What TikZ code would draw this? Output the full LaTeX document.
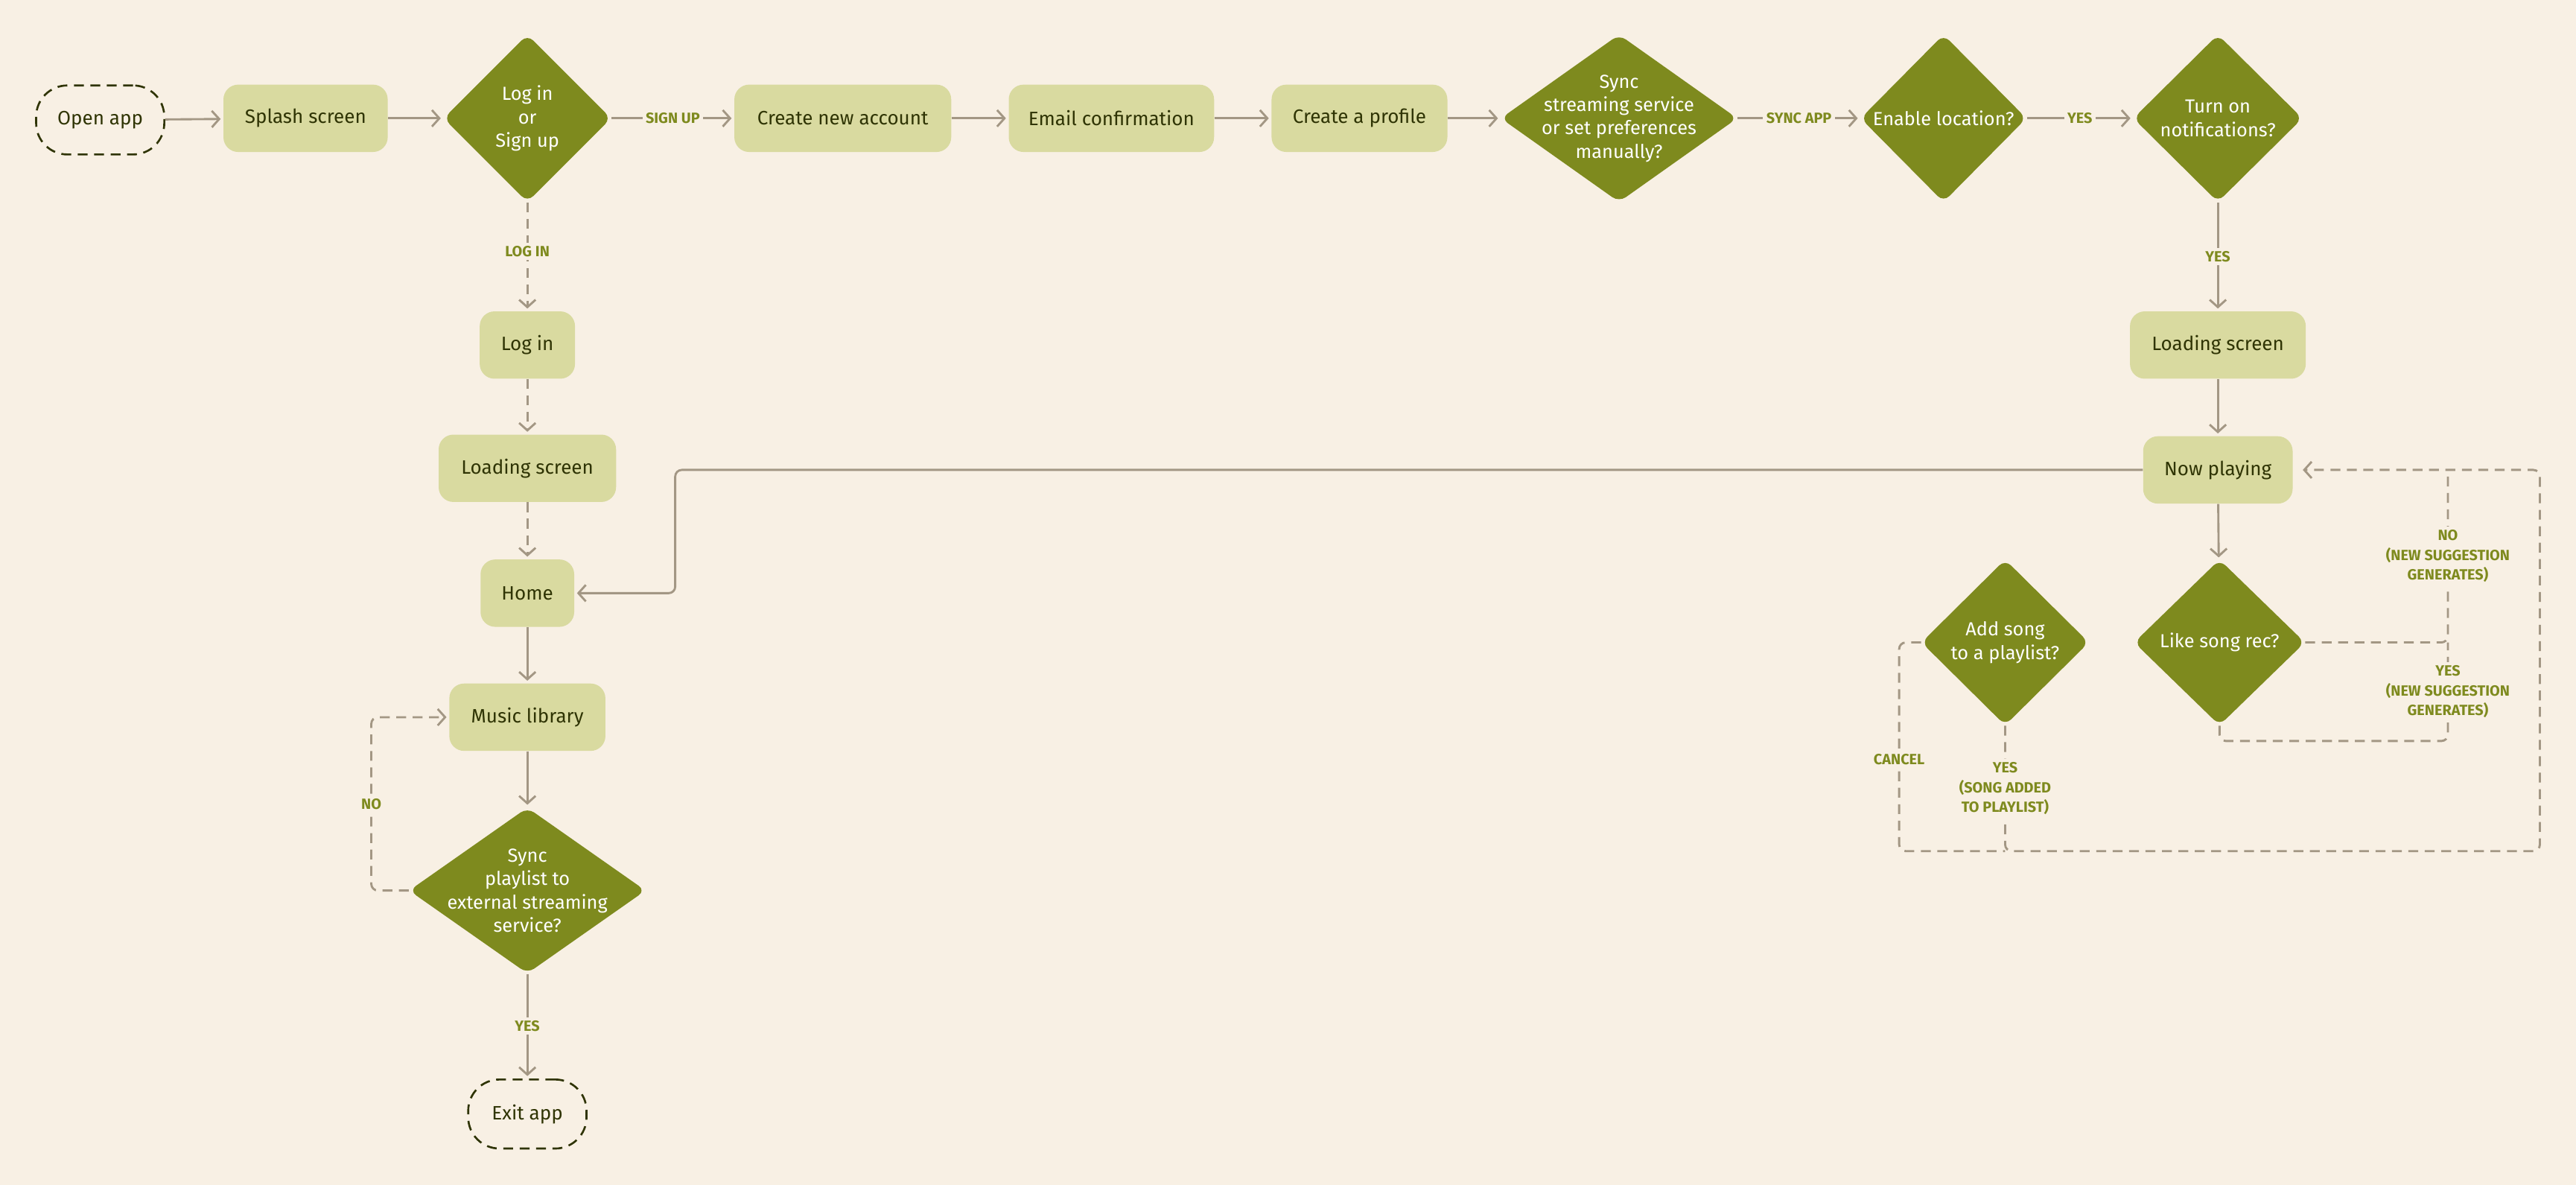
\documentclass[tikz,border=0pt]{standalone}
\usepackage{fontspec}
\setmainfont{Fira Sans}
\usetikzlibrary{arrows.meta,shapes.geometric,calc}
\definecolor{bg}{HTML}{F8F0E4}
\definecolor{boxfill}{HTML}{D9DAA0}
\definecolor{diafill}{HTML}{7E8A1E}
\definecolor{ink}{HTML}{2F3404}
\definecolor{edgec}{HTML}{A39784}
\definecolor{lab}{HTML}{7E8A1E}
\begin{document}
\begin{tikzpicture}[x=1pt,y=-1pt,
  box/.style={rectangle, rounded corners=9pt, fill=boxfill, text=ink, minimum height=41pt, inner sep=0pt, font=\fontsize{11.8}{14}\selectfont},
  term/.style={rectangle, rounded corners=19pt, draw=ink, dash pattern=on 6pt off 4pt, line width=1.2pt, minimum height=42pt, inner sep=0pt, text=ink, font=\fontsize{11.8}{14}\selectfont},
  dia/.style={diamond, fill=diafill, inner sep=0pt, rounded corners=5pt},
  dtext/.style={text=white, align=center, font=\fontsize{11.5}{14.2}\selectfont},
  edge/.style={draw=edgec, line width=1.3pt, -{Straight Barb[length=4.5pt,width=10pt]}, shorten >=1.5pt},
  dedge/.style={edge, dash pattern=on 6pt off 4pt},
  dline/.style={draw=edgec, line width=1.3pt, dash pattern=on 6pt off 4pt},
  elab/.style={fill=bg, text=lab, font=\fontsize{9}{12}\selectfont\bfseries, inner sep=2pt, align=center}
]
\useasboundingbox[fill=bg] (0,0) rectangle (1568,721);

% top row
\node[term, minimum width=78pt] (open) at (61,73) {Open app};
\node[box, minimum width=100pt] (splash) at (186,72) {Splash screen};
\node[dia, minimum width=102pt, minimum height=102pt, label={[dtext]center:{Log in\\or\\Sign up}}] (login) at (321,72) {};
\node[box, minimum width=132pt] (create) at (513,72) {Create new account};
\node[box, minimum width=125pt] (email) at (676.5,72) {Email confirmation};
\node[box, minimum width=107pt] (profile) at (827.5,72) {Create a profile};
\node[dia, minimum width=144pt, minimum height=102pt, label={[dtext]center:{Sync\\streaming service\\or set preferences\\manually?}}] (sync) at (985.5,72) {};
\node[dia, minimum width=101pt, minimum height=102pt, label={[dtext]center:{Enable location?}}] (enable) at (1183,72) {};
\node[dia, minimum width=103pt, minimum height=102pt, label={[dtext]center:{Turn on\\notifications?}}] (turnon) at (1350,72) {};

% right column
\node[box, minimum width=107pt] (loadr) at (1350,210) {Loading screen};
\node[box, minimum width=91pt] (nowp) at (1350,286) {Now playing};
\node[dia, minimum width=104pt, minimum height=101pt, label={[dtext]center:{Like song rec?}}] (like) at (1351,391) {};
\node[dia, minimum width=102pt, minimum height=101pt, label={[dtext]center:{Add song\\to a playlist?}}] (addsong) at (1220.5,391) {};

% left column
\node[box, minimum width=58pt] (loginbox) at (321,210) {Log in};
\node[box, minimum width=108pt] (loadl) at (321,285) {Loading screen};
\node[box, minimum width=57pt] (home) at (321,361) {Home};
\node[box, minimum width=95pt] (music) at (321,436.5) {Music library};
\node[dia, minimum width=144pt, minimum height=101pt, label={[dtext]center:{Sync\\playlist to\\external streaming\\service?}}] (syncpl) at (321,542) {};
\node[term, minimum width=72pt] (exit) at (321,678) {Exit app};

% helper coordinates
\coordinate (bendx) at (411,0);
\coordinate (nox) at (226,0);
\coordinate (outer) at (1546,518);
\coordinate (mid) at (1490,451);
\coordinate (canc) at (1156,518);

% top row connectors
\draw[edge] (open) -- (splash);
\draw[edge] (splash) -- (login);
\draw[edge] (login) -- node[elab]{SIGN UP} (create);
\draw[edge] (create) -- (email);
\draw[edge] (email) -- (profile);
\draw[edge] (profile) -- (sync);
\draw[edge] (sync) -- node[elab]{SYNC APP} (enable);
\draw[edge] (enable) -- node[elab]{YES} (turnon);

% right column connectors
\draw[edge] (turnon) -- node[elab]{YES} (loadr);
\draw[edge] (loadr) -- (nowp);
\draw[edge] (nowp) -- (like);
\draw[edge, rounded corners=4pt] (nowp.west) -- (bendx |- nowp.west) -- (bendx |- home.east) -- (home.east);

% left column connectors
\draw[dedge] (login) -- node[elab, pos=0.45]{LOG IN} (loginbox);
\draw[dedge] (loginbox) -- (loadl);
\draw[dedge] (loadl) -- (home);
\draw[edge] (home) -- (music);
\draw[edge] (music) -- (syncpl);
\draw[edge] (syncpl) -- node[elab]{YES} (exit);
\draw[dedge, rounded corners=4pt] (syncpl.west) -- (nox |- syncpl.west) -- node[elab]{NO} (nox |- music.west) -- (music.west);

% right loops
\draw[dedge, rounded corners=4pt, shorten >=6pt] (addsong.south) -- node[elab]{YES\\(SONG ADDED\\TO PLAYLIST)} (addsong.south |- outer) -- (outer) -- (outer |- nowp.east) -- (nowp.east);
\draw[dline, rounded corners=4pt] (like.east) -- (mid |- like.east) -- node[elab]{NO\\(NEW SUGGESTION\\GENERATES)} (mid |- nowp.east);
\draw[dline, rounded corners=4pt] (like.south) -- (like.south |- mid) -- (mid) -- node[elab]{YES\\(NEW SUGGESTION\\GENERATES)} (mid |- like.east);
\draw[dline, rounded corners=4pt] (addsong.west) -- (canc |- addsong.west) -- node[elab, pos=0.56]{CANCEL} (canc) -- (addsong.south |- canc);
\end{tikzpicture}
\end{document}
